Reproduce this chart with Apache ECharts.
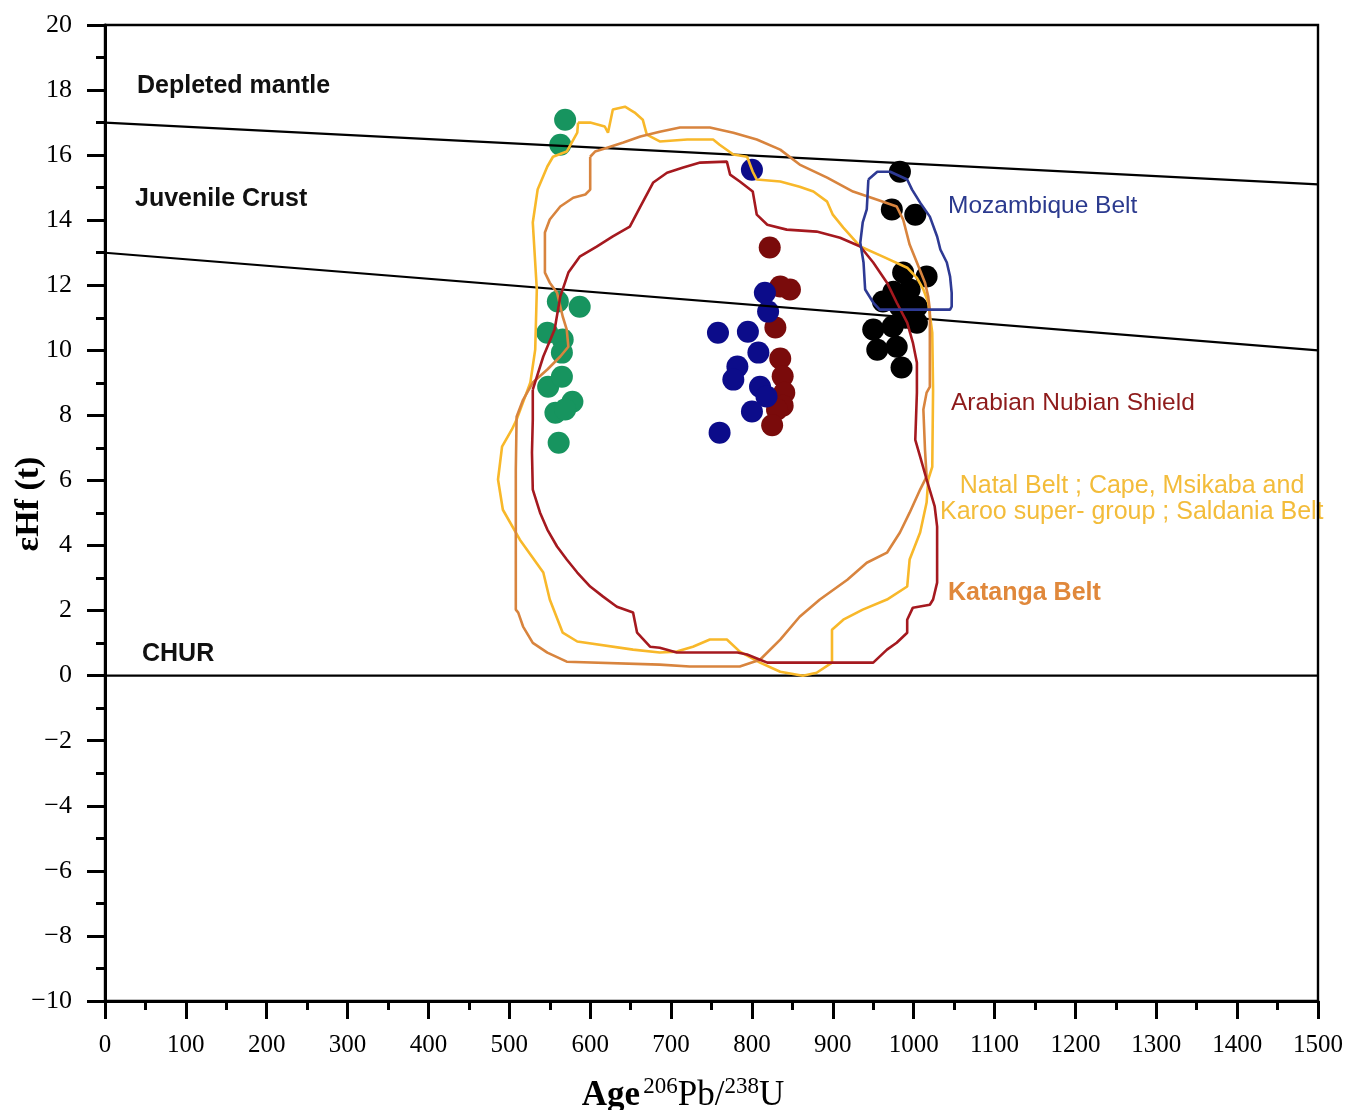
<!DOCTYPE html>
<html>
<head>
<meta charset="utf-8">
<title>εHf(t) vs Age</title>
<script src="https://cdn.jsdelivr.net/npm/echarts@6/dist/echarts.min.js"></script>
<style>
  html, body { margin: 0; padding: 0; background: #fff; }
  #chart { width: 1346px; height: 1110px; }
</style>
</head>
<body>
<div id="chart"></div>
<script>
// ---- Axis ranges and ticks ----
const xRange = [0, 1500];
const yRange = [-10, 20];
const xStep = 100;
const yStep = 2;

// ---- Reference evolution lines: [age, εHf] ----
const depletedMantleLine = [[0, 17], [1500, 15.1]];
const juvenileCrustLine = [[0, 13], [1500, 10]];
const churLine = [[0, 0], [1500, 0]];

// ---- Zircon analyses: [age (Ma), εHf(t)] ----
const greenPoints = [
  [569, 17.09], [563, 16.32], [560, 11.5], [587, 11.34], [547, 10.54],
  [566, 10.33], [565, 9.93], [548, 8.88], [565, 9.19], [578, 8.42],
  [557, 8.08], [569, 8.18], [561, 7.16]
];
const maroonPoints = [
  [822, 13.16], [847, 11.87], [835, 11.96], [829, 10.70], [835, 9.75],
  [838, 9.20], [840, 8.70], [838, 8.30], [831, 8.18], [825, 7.70]
];
const navyPoints = [
  [800, 15.55], [816, 11.77], [820, 11.19], [758, 10.54], [795, 10.57],
  [808, 9.93], [782, 9.50], [777, 9.10], [810, 8.88], [818, 8.58],
  [800, 8.12], [760, 7.47]
];
const blackPoints = [
  [983, 15.49], [973, 14.33], [1002, 14.17], [987, 12.39], [1016, 12.27],
  [995, 11.87], [962, 11.50], [983, 11.34], [1004, 11.34], [950, 10.64],
  [974, 10.73], [1004, 10.85], [955, 10.02], [979, 10.11], [985, 9.47],
  [990, 11.0], [975, 11.8]
];

// ---- Field outlines of comparison terranes: [age, εHf] ----
const natalOutline = [
  [585, 17.00], [600, 17.00], [618, 16.88], [622, 16.69], [628, 17.40],
  [643, 17.49], [655, 17.31], [665, 17.09], [670, 16.63], [686, 16.42],
  [720, 16.48], [752, 16.48], [760, 16.32], [777, 16.02], [794, 15.95],
  [801, 15.49], [806, 15.25], [835, 15.19], [859, 15.03], [876, 14.88],
  [893, 14.57], [900, 14.17], [913, 13.77], [934, 13.19], [962, 12.88],
  [992, 12.54], [1004, 12.23], [1012, 11.87], [1018, 11.47], [1023, 10.54],
  [1024, 8.79], [1023, 6.42], [1018, 6.03], [1016, 5.32], [1008, 4.40],
  [995, 3.57], [992, 2.74], [967, 2.34], [937, 2.03], [913, 1.72],
  [899, 1.41], [899, 0.40], [880, 0.09], [863, 0.0], [835, 0.12],
  [810, 0.40], [785, 0.74], [769, 1.11], [748, 1.11], [727, 0.89],
  [707, 0.74], [686, 0.71], [653, 0.80], [584, 1.05], [566, 1.32],
  [550, 2.34], [542, 3.17], [513, 4.18], [492, 5.10], [486, 6.03],
  [491, 7.04], [503, 7.56], [509, 7.87], [526, 9.01], [532, 10.02],
  [534, 11.87], [529, 13.93], [535, 14.94], [547, 15.65], [554, 15.95],
  [571, 16.11], [584, 16.69], [585, 17.00]
];
const katangaOutline = [
  [600, 15.95], [606, 16.11], [621, 16.23], [641, 16.39], [662, 16.57],
  [686, 16.72], [711, 16.85], [748, 16.85], [777, 16.69], [806, 16.48],
  [835, 16.17], [859, 15.71], [893, 15.31], [925, 14.88], [955, 14.63],
  [979, 14.42], [987, 14.02], [995, 13.25], [1004, 12.70], [1014, 12.08],
  [1018, 11.65], [1020, 11.25], [1020, 8.88], [1016, 8.70], [1012, 8.18],
  [1014, 6.95], [1016, 6.12], [1008, 5.72], [995, 5.01], [983, 4.40],
  [967, 3.78], [942, 3.47], [918, 2.95], [884, 2.34], [859, 1.81],
  [835, 1.11], [810, 0.49], [785, 0.28], [723, 0.28], [686, 0.34],
  [571, 0.43], [547, 0.71], [529, 1.01], [517, 1.51], [511, 1.94],
  [508, 2.03], [508, 6.33], [509, 7.96], [517, 8.48], [529, 9.01],
  [547, 9.41], [563, 9.81], [573, 10.11], [571, 10.64], [566, 11.04],
  [559, 11.77], [550, 12.08], [544, 12.39], [544, 13.62], [550, 14.02],
  [563, 14.42], [579, 14.69], [594, 14.79], [600, 14.94], [600, 15.95]
];
const arabianNubianOutline = [
  [529, 8.79], [542, 9.81], [556, 10.64], [563, 11.65], [573, 12.39],
  [587, 12.88], [608, 13.19], [628, 13.50], [649, 13.80], [662, 14.42],
  [678, 15.16], [695, 15.46], [715, 15.62], [736, 15.77], [769, 15.80],
  [773, 15.40], [785, 15.19], [801, 14.88], [806, 14.17], [819, 13.86],
  [843, 13.71], [880, 13.65], [909, 13.46], [934, 13.19], [950, 12.70],
  [967, 12.08], [979, 11.47], [992, 10.85], [999, 10.24], [1004, 9.62],
  [1004, 8.70], [1002, 7.25], [1008, 6.73], [1016, 6.03], [1026, 5.20],
  [1029, 4.58], [1029, 2.86], [1024, 2.34], [1020, 2.18], [999, 2.09],
  [992, 1.72], [992, 1.32], [979, 1.01], [967, 0.80], [950, 0.40],
  [819, 0.40], [810, 0.49], [794, 0.65], [782, 0.71], [707, 0.71],
  [686, 0.86], [674, 0.89], [658, 1.32], [653, 1.94], [633, 2.12],
  [616, 2.43], [600, 2.74], [584, 3.17], [571, 3.57], [559, 3.97],
  [547, 4.49], [538, 5.01], [529, 5.72], [528, 6.86], [529, 7.87],
  [529, 8.79]
];
const mozambiqueOutline = [
  [944, 15.25], [955, 15.49], [971, 15.49], [992, 15.25], [998, 14.94],
  [1008, 14.54], [1020, 14.11], [1029, 13.50], [1033, 13.10], [1041, 12.70],
  [1045, 12.27], [1047, 11.77], [1047, 11.34], [1045, 11.25], [958, 11.25],
  [950, 11.47], [940, 11.87], [938, 12.70], [934, 13.31], [937, 13.93],
  [942, 14.33], [944, 15.25]
];

// ---- Colours ----
const colors = {
  natal: '#F8B82A',
  katanga: '#D8843E',
  arabian: '#A5191F',
  mozambique: '#2E3A94',
  green: '#17945F',
  maroon: '#7A0B0B',
  navy: '#0C0C8A',
  black: '#000000'
};

const serif = '"Liberation Serif", "Times New Roman", serif';
const sans = '"Liberation Sans", Arial, sans-serif';

function tickText(v) {
  return v < 0 ? '\u2212' + Math.abs(v) : String(v);
}

function refLine(data) {
  return {
    type: 'line', data: data, showSymbol: false, silent: true, z: 5,
    lineStyle: { color: '#000', width: 2.2 }
  };
}
function outline(data, color) {
  return {
    type: 'line', data: data, showSymbol: false, silent: true, z: 6,
    lineStyle: { color: color, width: 2.6 }
  };
}
function dots(data, color) {
  return {
    type: 'scatter', data: data, symbolSize: 22, z: 3, silent: true,
    itemStyle: { color: color, opacity: 1 }
  };
}

const chart = echarts.init(document.getElementById('chart'), null, { renderer: 'canvas' });

chart.setOption({
  animation: false,
  backgroundColor: '#fff',
  grid: {
    left: 105, right: 28, top: 25, bottom: 109,
    containLabel: false, outerBoundsMode: 'none',
    show: true, borderColor: '#000', borderWidth: 2.4, backgroundColor: 'transparent'
  },
  xAxis: {
    type: 'value', min: xRange[0], max: xRange[1], interval: xStep,
    axisLine: { onZero: false, lineStyle: { color: '#000', width: 3 } },
    axisTick: { inside: false, length: 18, lineStyle: { color: '#000', width: 3 } },
    minorTick: { show: true, splitNumber: 2, length: 9, lineStyle: { color: '#000', width: 3 } },
    splitLine: { show: false },
    axisLabel: { fontFamily: serif, fontSize: 25, color: '#000', margin: 32, formatter: tickText }
  },
  yAxis: {
    type: 'value', min: yRange[0], max: yRange[1], interval: yStep,
    axisLine: { onZero: false, lineStyle: { color: '#000', width: 3 } },
    axisTick: { inside: false, length: 18, lineStyle: { color: '#000', width: 3 } },
    minorTick: { show: true, splitNumber: 2, length: 9, lineStyle: { color: '#000', width: 3 } },
    splitLine: { show: false },
    axisLabel: { fontFamily: serif, fontSize: 26, color: '#000', margin: 33, formatter: tickText }
  },
  series: [
    dots(greenPoints, colors.green),
    dots(maroonPoints, colors.maroon),
    dots(navyPoints, colors.navy),
    dots(blackPoints, colors.black),
    refLine(depletedMantleLine),
    refLine(juvenileCrustLine),
    refLine(churLine),
    outline(natalOutline, colors.natal),
    outline(katangaOutline, colors.katanga),
    outline(arabianNubianOutline, colors.arabian),
    outline(mozambiqueOutline, colors.mozambique)
  ],
  graphic: [
    { type: 'text', x: 137, y: 86, z: 10, style: { text: 'Depleted mantle', fill: '#111', font: 'bold 25px ' + sans, verticalAlign: 'middle' } },
    { type: 'text', x: 135, y: 199, z: 10, style: { text: 'Juvenile Crust', fill: '#111', font: 'bold 25px ' + sans, verticalAlign: 'middle' } },
    { type: 'text', x: 142, y: 654, z: 10, style: { text: 'CHUR', fill: '#111', font: 'bold 25px ' + sans, verticalAlign: 'middle' } },
    { type: 'text', x: 948, y: 206, z: 10, style: { text: 'Mozambique Belt', fill: '#2B3A8E', font: '24.5px ' + sans, verticalAlign: 'middle' } },
    { type: 'text', x: 951, y: 403, z: 10, style: { text: 'Arabian Nubian Shield', fill: '#8E1B1B', font: '24.5px ' + sans, verticalAlign: 'middle' } },
    { type: 'text', x: 1132, y: 486, z: 10, style: { text: 'Natal Belt ; Cape, Msikaba and', fill: '#F3BC3A', font: '25px ' + sans, align: 'center', verticalAlign: 'middle' } },
    { type: 'text', x: 940, y: 512, z: -1, style: { text: 'Karoo super- group ; Saldania Belt', fill: '#F3BC3A', font: '25px ' + sans, verticalAlign: 'middle' } },
    { type: 'text', x: 948, y: 593, z: 10, style: { text: 'Katanga Belt', fill: '#E0883B', font: 'bold 25px ' + sans, verticalAlign: 'middle' } },
    {
      type: 'text', x: 29, y: 504, rotation: Math.PI / 2, z: 10,
      style: { text: 'εHf (t)', fill: '#000', font: 'bold 34px ' + serif, align: 'center', verticalAlign: 'middle' }
    },
    {
      type: 'text', x: 683, y: 1094, z: 10,
      style: {
        text: '{a|Age} {s|206}{n|Pb/}{s|238}{n|U}',
        align: 'center', verticalAlign: 'middle',
        rich: {
          a: { fontFamily: serif, fontWeight: 'bold', fontSize: 35, fill: '#000', lineHeight: 38, verticalAlign: 'bottom' },
          n: { fontFamily: serif, fontSize: 35, fill: '#000', lineHeight: 38, verticalAlign: 'bottom' },
          s: { fontFamily: serif, fontSize: 23, fill: '#000', lineHeight: 38, verticalAlign: 'top', padding: [0, 0, 12, 0] }
        }
      }
    }
  ]
});
</script>
</body>
</html>
